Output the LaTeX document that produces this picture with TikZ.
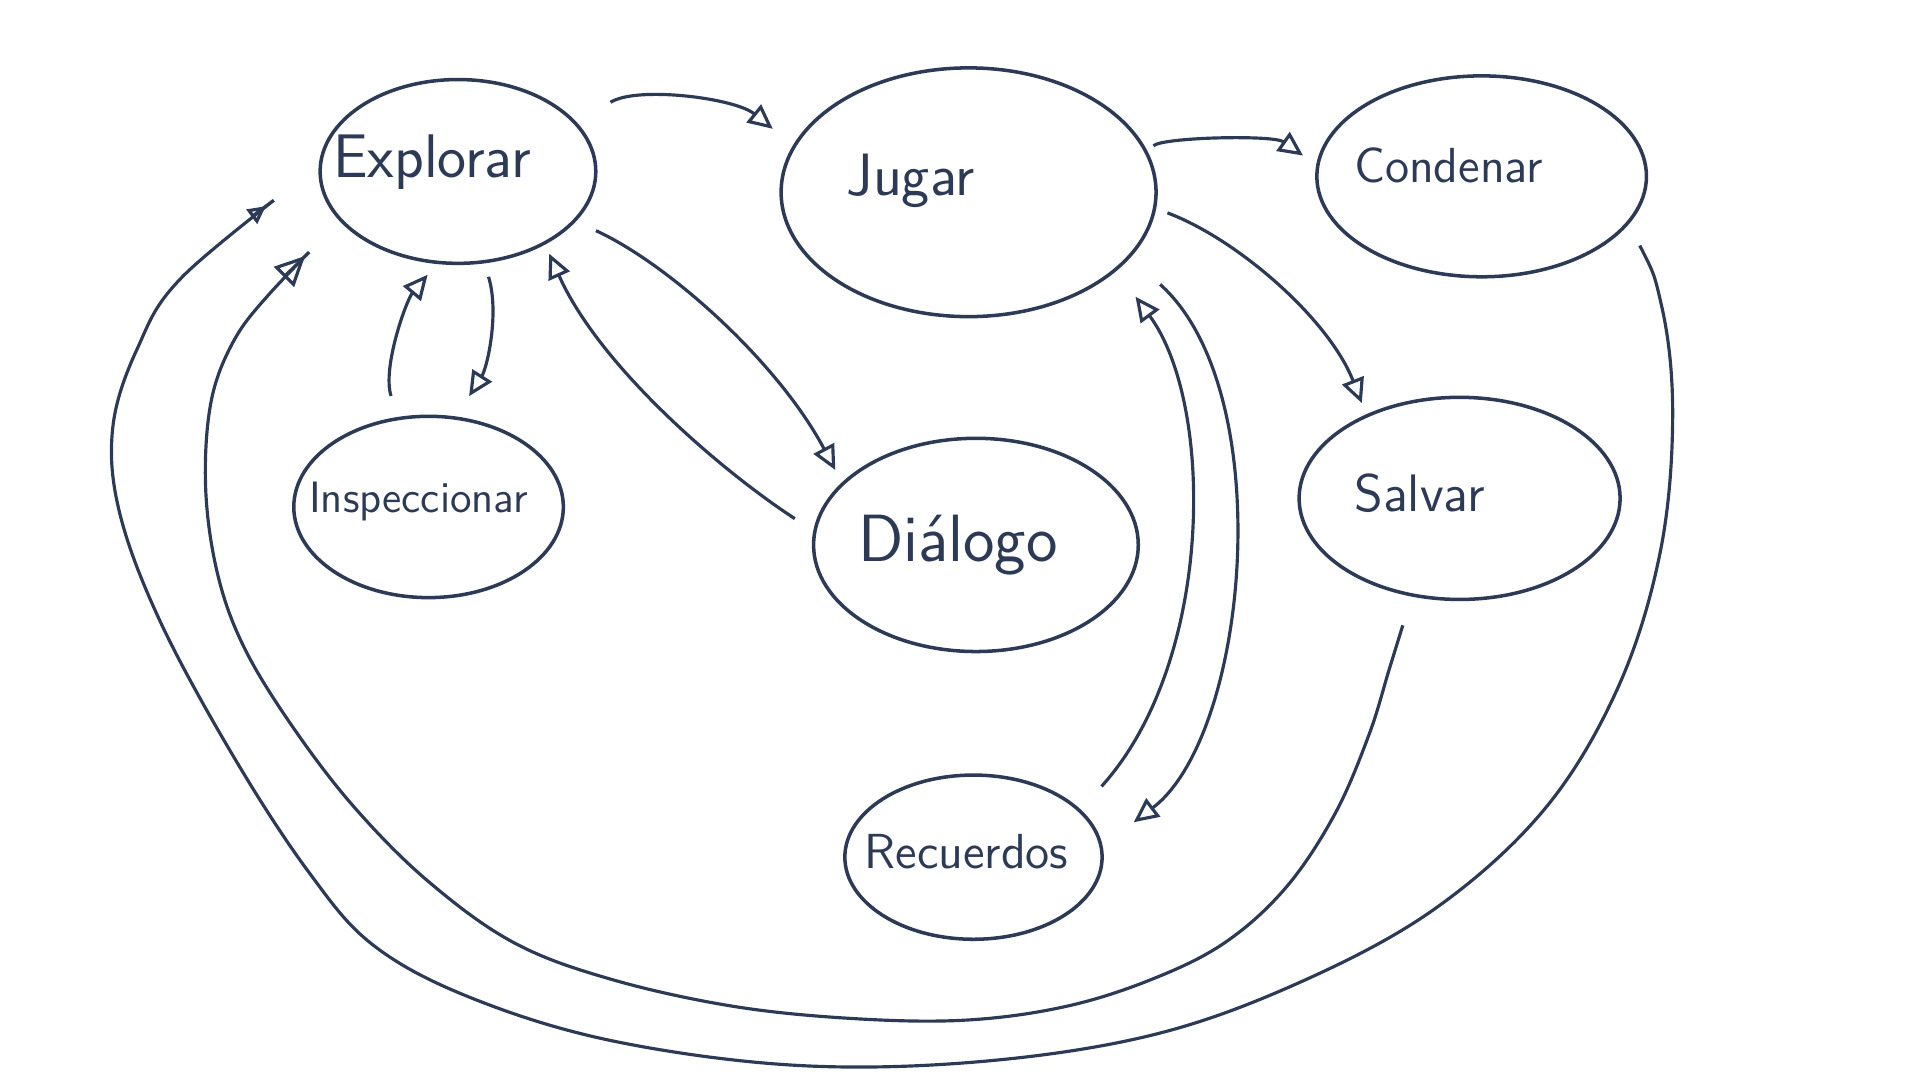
\documentclass[tikz,border=0pt]{standalone}
\usepackage{fontspec}
\usetikzlibrary{shapes.geometric,arrows.meta}
\definecolor{ink}{HTML}{2D3A56}
\tikzset{
  estado/.style={ellipse, draw=ink, line width=1pt, inner sep=0pt},
  etiqueta/.style={text=ink, font=\sffamily\fontsize{#1}{#1}\selectfont},
  flecha/.style={draw=ink, line width=0.9pt, -{Triangle[open, length=7pt, width=6.5pt]}},
  punta chica/.style={-{Triangle[open, length=5pt, width=5pt]}},
  punta grande/.style={-{Triangle[open, length=8.5pt, width=8pt]}},
}
\begin{document}
\begin{tikzpicture}[x=0.012245cm, y=-0.012245cm]
\useasboundingbox (0,0) rectangle (1568,882);
%\draw[help lines] (0,0) grid (1568,882);
\node[estado, minimum width=2.755cm, minimum height=1.837cm,
  label={[etiqueta=17.5, xshift=-0.26cm, yshift=0.09cm]center:Explorar}] (explorar) at (374,140) {};
\node[estado, minimum width=3.747cm, minimum height=2.486cm,
  label={[etiqueta=17, xshift=-0.58cm, yshift=0.11cm]center:Jugar}] (jugar) at (791,157) {};
\node[estado, minimum width=3.294cm, minimum height=2.008cm,
  label={[etiqueta=14, xshift=-0.33cm, yshift=0.11cm]center:Condenar}] (condenar) at (1210,144) {};
\node[estado, minimum width=2.694cm, minimum height=1.812cm,
  label={[etiqueta=12.5, xshift=-0.10cm, yshift=0.05cm]center:Inspeccionar}] (inspeccionar) at (350,414) {};
\node[estado, minimum width=3.245cm, minimum height=2.131cm,
  label={[etiqueta=19, xshift=-0.18cm]center:Diálogo}] (dialogo) at (797,445) {};
\node[estado, minimum width=3.208cm, minimum height=2.020cm,
  label={[etiqueta=15, xshift=-0.40cm, yshift=0.05cm]center:Salvar}] (salvar) at (1192,407) {};
\node[estado, minimum width=2.571cm, minimum height=1.641cm,
  label={[etiqueta=14, xshift=-0.07cm, yshift=0.06cm]center:Recuerdos}] (recuerdos) at (795,700) {};

% transiciones cortas
\draw[flecha, shorten <=0.39cm, shorten >=0.26cm] (explorar.22) .. controls (520,70) and (600,80) .. (jugar.165);
\draw[flecha, shorten <=0.08cm, shorten >=0.16cm] (jugar.13) .. controls (950,112) and (1040,110) .. (condenar.176);
\draw[flecha, shorten <=0.12cm, shorten >=0.12cm] (jugar.-5) .. controls (1010,195) and (1085,260) .. (salvar.138);
\draw[flecha, shorten <=0.22cm, shorten >=0.14cm] (explorar.-23) .. controls (545,215) and (635,295) .. (dialogo.155);
\draw[flecha, shorten <=0.22cm, shorten >=0.10cm] (dialogo.175) .. controls (590,385) and (490,300) .. (explorar.-40);
\draw[flecha, shorten <=0.14cm, shorten >=0.24cm] (explorar.-74) .. controls (408,255) and (398,300) .. (inspeccionar.73);
\draw[flecha, shorten <=0.22cm, shorten >=0.14cm] (inspeccionar.109) .. controls (312,300) and (332,245) .. (explorar.-103);
\draw[flecha, shorten <=0.31cm, shorten >=0.32cm] (recuerdos.24) .. controls (992,540) and (992,330) .. (jugar.-28);
\draw[flecha, shorten <=0.40cm, shorten >=0.39cm] (jugar.-22) .. controls (1045,320) and (1020,600) .. (recuerdos.5);

% vueltas largas a Explorar
\draw[flecha, punta chica, shorten <=0.24cm, shorten >=0.66cm] plot[smooth, tension=0.6] coordinates {
  (condenar.-18) (1357,250) (1366,340) (1356,450) (1322,560) (1262,660) (1172,742) (1062,802)
  (942,845) (800,867) (650,870) (500,850) (385,815) (305,772) (252,712) (192,620) (132,510)
  (98,420) (92,350) (112,285) (150,225) (explorar.178)};
\draw[flecha, punta grande, shorten <=0.30cm, shorten >=0.49cm] plot[smooth, tension=0.6] coordinates {
  (salvar.-116) (1135,545) (1118,600) (1090,665) (1050,725) (1000,770) (940,800) (870,822)
  (790,833) (700,832) (600,822) (500,800) (420,770) (350,720) (290,660) (240,595) (200,530)
  (178,470) (168,400) (172,330) (190,280) (220,240) (explorar.203)};
\end{tikzpicture}
\end{document}
